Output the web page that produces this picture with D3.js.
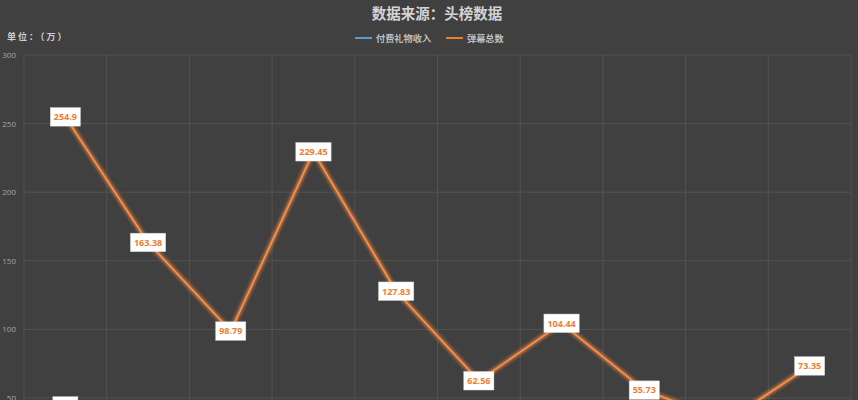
<!DOCTYPE html>
<html>
<head>
<meta charset="utf-8">
<script src="https://cdn.jsdelivr.net/npm/d3@7"></script>
<style>
  html, body { margin: 0; padding: 0; background: #404040; }
  svg { display: block; }
</style>
</head>
<body>
<div id="chart"></div>
<script>
const categories = ["1", "2", "3", "4", "5", "6", "7", "8", "9", "10"];
const giftIncome = [44.2, 30.1, 18.5, 35.2, 20.4, 10.9, 15.3, 8.6, 5.2, 12.8];
const danmaku = [254.9, 163.38, 98.79, 229.45, 127.83, 62.56, 104.44, 55.73, 33.2, 73.35];
const yTicks = [0, 50, 100, 150, 200, 250, 300];
const seriesNames = ["付费礼物收入", "弹幕总数"];
const subtitle = "数据来源：头榜数据";
const unitLabel = "单位：（万）";

const W = 858, H = 400;
const plot = { left: 24, right: 851, top: 55, bottom: 466.6 };
const colors = ["#5B9BD5", "#ED7D31"];
const coreColors = ["#7FB0E0", "#F2945A"];

const svg = d3.select("#chart").append("svg").attr("width", W).attr("height", H);
svg.append("rect").attr("width", W).attr("height", H).attr("fill", "#404040");

const defs = svg.append("defs");
const f = defs.append("filter").attr("id", "blur")
  .attr("x", "-20%").attr("y", "-20%").attr("width", "140%").attr("height", "140%");
f.append("feGaussianBlur").attr("in", "SourceGraphic").attr("stdDeviation", 1.6);

const x = d3.scaleBand().domain(categories).range([plot.left, plot.right]);
const y = d3.scaleLinear().domain([0, 300]).range([plot.bottom, plot.top]);

// gridlines
svg.append("g").selectAll("line.h").data(yTicks).join("line")
  .attr("x1", plot.left).attr("x2", plot.right)
  .attr("y1", d => y(d)).attr("y2", d => y(d))
  .attr("stroke", "#575757").attr("stroke-width", 0.8);
const bounds = categories.map(c => x(c)).concat([plot.right]);
svg.append("g").selectAll("line.v").data(bounds).join("line")
  .attr("x1", d => d).attr("x2", d => d)
  .attr("y1", plot.top).attr("y2", plot.bottom)
  .attr("stroke", "#575757").attr("stroke-width", 0.8);

// y axis labels
const yAxis = d3.axisLeft(y).tickValues(yTicks).tickSize(0).tickPadding(0);
const ga = svg.append("g").attr("transform", `translate(16,0)`).call(yAxis);
ga.select(".domain").remove();
ga.selectAll("text").attr("fill", "#a6a6a6").attr("font-size", 8)
  .attr("font-family", "'Open Sans', 'Noto Sans', sans-serif");

// subtitle
svg.append("text").attr("x", 437).attr("y", 19).attr("text-anchor", "middle")
  .attr("fill", "#d4d4d4").attr("font-size", 14.5).attr("font-weight", "bold")
  .attr("font-family", "'Noto Sans CJK SC', sans-serif").text(subtitle);

// unit
svg.append("text").attr("x", 7).attr("y", 40)
  .attr("fill", "#cfcfcf").attr("font-size", 9).attr("font-weight", "bold")
  .attr("letter-spacing", 2)
  .attr("font-family", "'Noto Sans CJK SC', sans-serif").text(unitLabel);

// legend
const legendPos = [355, 446];
seriesNames.forEach((n, i) => {
  const g = svg.append("g").attr("transform", `translate(${legendPos[i]},38)`);
  g.append("line").attr("x1", 0).attr("x2", 17).attr("y1", 0).attr("y2", 0)
    .attr("stroke", colors[i]).attr("stroke-width", 2);
  g.append("text").attr("x", 21).attr("y", 3.5).attr("fill", "#bfbfbf")
    .attr("font-size", 9.2).attr("font-weight", "bold")
    .attr("font-family", "'Noto Sans CJK SC', sans-serif").text(n);
});

// lines
const cx = c => x(c) + x.bandwidth() / 2;
[giftIncome, danmaku].forEach((vals, i) => {
  const line = d3.line().x((d, k) => cx(categories[k])).y(d => y(d));
  svg.append("path").datum(vals).attr("d", line)
    .attr("fill", "none").attr("stroke", colors[i]).attr("stroke-width", 4.5)
    .attr("stroke-opacity", 0.75)
    .attr("stroke-linejoin", "round").attr("filter", "url(#blur)");
  svg.append("path").datum(vals).attr("d", line)
    .attr("fill", "none").attr("stroke", coreColors[i]).attr("stroke-width", 1.6)
    .attr("stroke-linejoin", "round");
});

// labels
[giftIncome, danmaku].forEach((vals, i) => {
  const g = svg.append("g");
  vals.forEach((v, k) => {
    const px = cx(categories[k]), py = y(v);
    const lg = g.append("g").attr("transform", `translate(${px},${py})`);
    const rect = lg.append("rect").attr("fill", "#ffffff").attr("stroke", "#d0d0d0").attr("stroke-width", 0.5);
    const t = lg.append("text").attr("text-anchor", "middle").attr("y", 3.3)
      .attr("fill", colors[i]).attr("font-size", 9).attr("font-weight", "bold")
      .attr("font-family", "'Open Sans', 'Noto Sans', sans-serif").text(String(v));
    const bb = t.node().getBBox();
    const w = bb.width + 7, h = 18.5;
    rect.attr("x", -w / 2).attr("y", -h / 2).attr("width", w).attr("height", h);
  });
});
</script>
</body>
</html>
